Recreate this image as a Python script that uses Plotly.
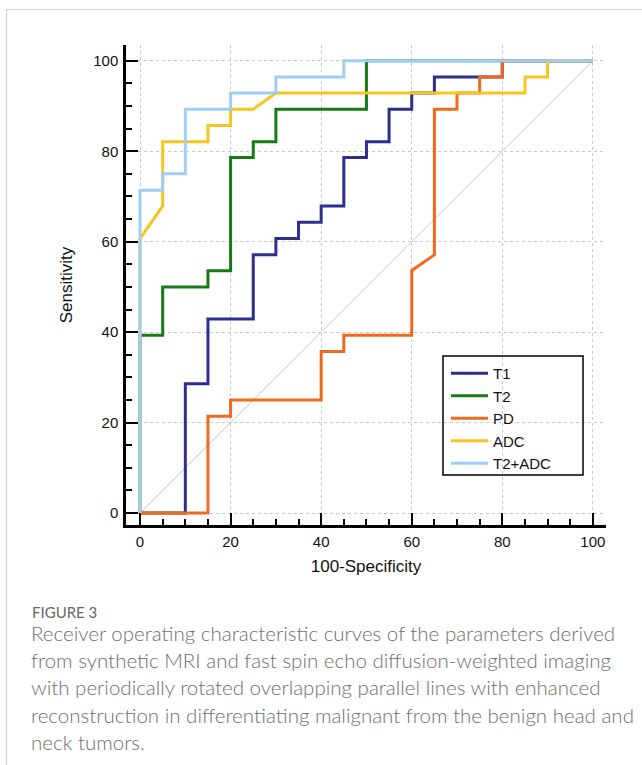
import plotly.graph_objects as go

# ROC step coordinates (100-Specificity, Sensitivity)
t1_x = [0, 10, 10, 15, 15, 25, 25, 30, 30, 35, 35, 40, 40, 45, 45, 50, 50, 55, 55, 60, 60, 65, 65, 80, 80, 100]
t1_y = [0, 0, 28.6, 28.6, 42.9, 42.9, 57.1, 57.1, 60.7, 60.7, 64.3, 64.3, 67.9, 67.9, 78.6, 78.6, 82.1, 82.1, 89.3, 89.3, 92.9, 92.9, 96.4, 96.4, 100, 100]

t2_x = [0, 0, 5, 5, 15, 15, 20, 20, 25, 25, 30, 30, 50, 50, 100]
t2_y = [0, 39.3, 39.3, 50, 50, 53.6, 53.6, 78.6, 78.6, 82.1, 82.1, 89.3, 89.3, 100, 100]

pd_x = [0, 15, 15, 20, 20, 40, 40, 45, 45, 60, 60, 65, 65, 70, 70, 75, 75, 80, 80, 100]
pd_y = [0, 0, 21.4, 21.4, 25, 25, 35.7, 35.7, 39.3, 39.3, 53.6, 57.1, 89.3, 89.3, 92.9, 92.9, 96.4, 96.4, 100, 100]

adc_x = [0, 0, 5, 5, 15, 15, 20, 20, 25, 30, 85, 85, 90, 90, 100]
adc_y = [0, 60.7, 67.9, 82.1, 82.1, 85.7, 85.7, 89.3, 89.3, 92.9, 92.9, 96.4, 96.4, 100, 100]

t2adc_x = [0, 0, 5, 5, 10, 10, 20, 20, 30, 30, 45, 45, 100]
t2adc_y = [0, 71.4, 71.4, 75, 75, 89.3, 89.3, 92.9, 92.9, 96.4, 96.4, 100, 100]

diag_x = [0, 100]
diag_y = [0, 100]

series_names = ["T1", "T2", "PD", "ADC", "T2+ADC"]
series_colors = ["#2c2f8e", "#177a17", "#f06a1c", "#f7c51e", "#9fcdf3"]
series_x = [t1_x, t2_x, pd_x, adc_x, t2adc_x]
series_y = [t1_y, t2_y, pd_y, adc_y, t2adc_y]

tick_vals = [0, 20, 40, 60, 80, 100]

caption_title = "FIGURE 3"
caption_lines = [
    "Receiver operating characteristic curves of the parameters derived",
    "from synthetic MRI and fast spin echo diffusion-weighted imaging",
    "with periodically rotated overlapping parallel lines with enhanced",
    "reconstruction in differentiating malignant from the benign head and",
    "neck tumors.",
]

fig = go.Figure()
fig.add_trace(go.Scatter(x=diag_x, y=diag_y, mode="lines",
                         line=dict(color="#c6c6c6", width=1), showlegend=False, hoverinfo="skip"))
for name, color, xs, ys in zip(series_names, series_colors, series_x, series_y):
    fig.add_trace(go.Scatter(x=xs, y=ys, mode="lines", name=name,
                             line=dict(color=color, width=3)))

axis_common = dict(
    showline=True, linecolor="black", linewidth=2.5,
    ticks="inside", ticklen=12, tickwidth=1.5, tickcolor="black",
    tickmode="array", tickvals=tick_vals,
    showgrid=True, gridcolor="#c8c8c8", griddash="dot", gridwidth=1,
    zeroline=False,
    tickfont=dict(family="Arial, Liberation Sans", size=15, color="#111"),
    minor=dict(dtick=5, tick0=0, ticks="inside", ticklen=6, tickwidth=1.5, tickcolor="black", showgrid=False),
)
fig.update_xaxes(range=[-3.1, 102.9], title=dict(text="100-Specificity",
                 font=dict(family="Arial, Liberation Sans", size=17, color="#111"), standoff=12),
                 ticklabelstandoff=1, **axis_common)
fig.update_yaxes(range=[-2.65, 103.5], title=dict(text="Sensitivity",
                 font=dict(family="Arial, Liberation Sans", size=17, color="#111"), standoff=17),
                 ticklabelstandoff=2, **axis_common)

shapes = [
    # legend frame
    dict(type="rect", xref="paper", yref="paper",
         x0=(443 - 126) / 480, x1=(583 - 126) / 480, y0=(525 - 475) / 480, y1=(525 - 356) / 480,
         line=dict(color="black", width=1.5), fillcolor="rgba(0,0,0,0)"),
    # card border
    dict(type="path", xref="paper", yref="paper",
         path=f"M {(6.5 - 126) / 480} {(525 - 770) / 480} L {(6.5 - 126) / 480} {(525 - 9.5) / 480} L {(650 - 126) / 480} {(525 - 9.5) / 480}",
         line=dict(color="#cfcfcf", width=1.2)),
]

annotations = [dict(text=caption_title, xref="paper", yref="paper",
                    x=(30 - 126) / 480, y=(525 - 612) / 480, xanchor="left", yanchor="middle",
                    showarrow=False, font=dict(family="Lato", size=15, color="#666666"))]
for i, line in enumerate(caption_lines):
    cy = 633 + i * 27.2
    annotations.append(dict(text=line, xref="paper", yref="paper",
                            x=(29 - 126) / 480, y=(525 - cy) / 480, xanchor="left", yanchor="middle",
                            showarrow=False, font=dict(family="Lato", size=20.5, weight=300, color="#6e6e6e")))

fig.update_layout(
    width=642, height=765,
    margin=dict(l=126, r=36, t=45, b=240),
    plot_bgcolor="white", paper_bgcolor="white",
    showlegend=True,
    legend=dict(x=(446 - 126) / 480, y=(525 - 357) / 480, xanchor="left", yanchor="top",
                bgcolor="rgba(0,0,0,0)", borderwidth=0,
                font=dict(family="Arial, Liberation Sans", size=15, color="#111"),
                tracegroupgap=0, itemwidth=37),
    shapes=shapes,
    annotations=annotations,
)

fig.write_html("out.html", config={"displayModeBar": False},
               post_script="document.body.style.margin='0';")
